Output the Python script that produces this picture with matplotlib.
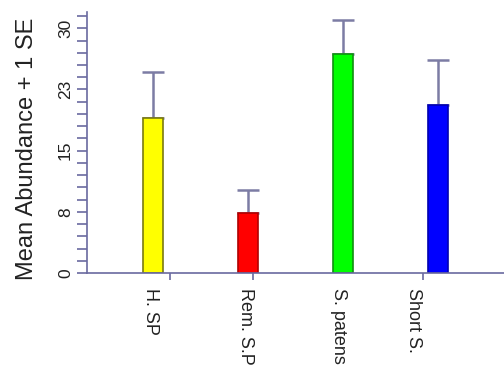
import matplotlib
matplotlib.use("Agg")
import matplotlib.pyplot as plt
import numpy as np

categories = ["H. SP", "Rem. S.P", "S. patens", "Short S."]
means = [19.0, 7.4, 26.9, 20.6]
se = [5.7, 2.8, 4.1, 5.5]
bar_colors = ["#ffff00", "#ff0000", "#00ff00", "#0000ff"]
edge_colors = ["#7a7a10", "#b00000", "#109010", "#0000b0"]
ytick_vals = [0, 7.5, 15, 22.5, 30]
ytick_labels = ["0", "8", "15", "23", "30"]

plt.rcParams['font.family'] = ['Liberation Sans', 'DejaVu Sans']

fig = plt.figure(figsize=(5.04, 3.84), dpi=100)
ax = fig.add_axes([87/504, 1 - 273/384, 1 - 87/504, (273 - 12)/384])

x = np.arange(len(categories))
ax.bar(x, means, width=0.21, color=bar_colors, edgecolor=edge_colors, linewidth=1.2, zorder=2)
ax.errorbar(x, means, yerr=[np.zeros(len(se)), se], fmt='none', ecolor='#7c7ca4',
            elinewidth=1.8, capsize=8, capthick=1.8, zorder=1)

ax.set_xlim(-0.695, 3.695)
ax.set_ylim(0, 32)

spine_color = '#6a6aa0'
for s in ['top', 'right']:
    ax.spines[s].set_visible(False)
for s in ['left', 'bottom']:
    ax.spines[s].set_color(spine_color)
    ax.spines[s].set_linewidth(1.2)

# y ticks
ax.set_yticks(ytick_vals)
ax.set_yticklabels(ytick_labels, rotation=90, va='center', fontsize=12.5, color='#222222')
ax.set_yticks(np.arange(0, 32, 1.5), minor=True)
ax.tick_params(axis='y', which='both', direction='out', length=7, width=1.2, color=spine_color, pad=3)

# x ticks: labels slightly offset, tick marks separate
label_pos = [-0.03, 0.97, 1.95, 2.74]
tick_pos = [0.18, 1.05, 1.95, 2.84]
ax.set_xticks(label_pos)
ax.set_xticklabels(categories, rotation=-90, va='top', ha='center', fontsize=13, color='#222222')
ax.set_xticks(tick_pos, minor=True)
ax.tick_params(axis='x', which='major', length=0, pad=11)
ax.tick_params(axis='x', which='minor', direction='out', length=5, width=1.2, color=spine_color)

ax.set_ylabel("Mean Abundance + 1 SE", fontsize=17, color='#222222')
ax.yaxis.set_label_coords(-0.118, 0.475)

fig.savefig("out.png", dpi=100, facecolor='white')
